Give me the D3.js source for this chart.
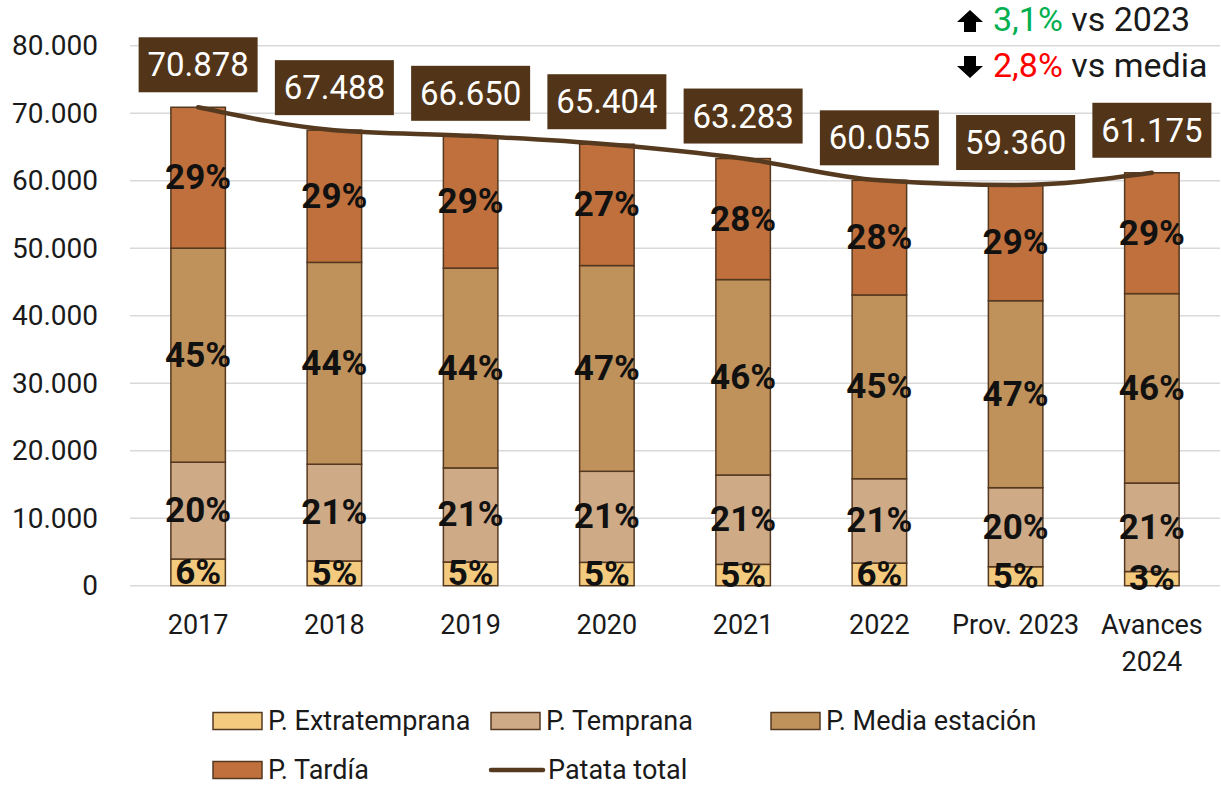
<!DOCTYPE html>
<html>
<head>
<meta charset="utf-8">
<script src="https://cdn.jsdelivr.net/npm/d3@7"></script>
<style>
  html, body { margin: 0; padding: 0; background: #fff; }
  svg { display: block; font-family: Roboto, "Noto Sans", sans-serif; }
</style>
</head>
<body>
<div id="chart"></div>
<script>
// --- data ---
const years = ["2017", "2018", "2019", "2020", "2021", "2022", "Prov. 2023", "Avances 2024"];
const extratemprana = [3950, 3660, 3510, 3460, 3160, 3350, 2810, 2100];
const temprana      = [14350, 14340, 13940, 13490, 13240, 12500, 11710, 13110];
const mediaEstacion = [31700, 29900, 29600, 30480, 28950, 27220, 27700, 28060];
const tardia        = [20878, 19588, 19600, 17974, 17933, 16985, 17140, 17905];
const patataTotal   = [70878, 67488, 66650, 65404, 63283, 60055, 59360, 61175];
const yTicks = [0, 10000, 20000, 30000, 40000, 50000, 60000, 70000, 80000];

const seriesNames = ["P. Extratemprana", "P. Temprana", "P. Media estación", "P. Tardía"];
const seriesValues = [extratemprana, temprana, mediaEstacion, tardia];
const seriesColors = ["#F3CA7E", "#CEAA86", "#C0925B", "#BF703C"];
const borderColor = "#553820";
const lineColor = "#553A20";
const boxColor = "#523519";

const width = 1221, height = 787;
const plot = { left: 130, right: 1220, top: 45.7, bottom: 585.7 };

const fmt = d3.formatLocale({ decimal: ",", thousands: ".", grouping: [3], currency: ["", "€"] }).format(",d");

const svg = d3.select("#chart").append("svg")
  .attr("width", width).attr("height", height)
  .attr("viewBox", `0 0 ${width} ${height}`);

const x = d3.scaleBand().domain(years).range([plot.left, plot.right])
  .paddingInner(0.6).paddingOuter(0.3);
const y = d3.scaleLinear().domain([0, 80000]).range([plot.bottom, plot.top]);

// gridlines
svg.append("g").selectAll("line").data(yTicks).join("line")
  .attr("x1", plot.left).attr("x2", plot.right)
  .attr("y1", d => y(d)).attr("y2", d => y(d))
  .attr("stroke", "#d9d9d9").attr("stroke-width", 1.5);

// y tick labels
svg.append("g").selectAll("text").data(yTicks).join("text")
  .attr("x", 98).attr("y", d => y(d))
  .attr("text-anchor", "end").attr("dominant-baseline", "central")
  .attr("font-size", 28).attr("fill", "#1a1a1a")
  .text(d => d === 0 ? "0" : fmt(d));

// stacked bars
const rows = years.map((yr, i) => {
  const r = { year: yr, total: patataTotal[i] };
  seriesNames.forEach((s, k) => r[s] = seriesValues[k][i]);
  return r;
});
const stacked = d3.stack().keys(seriesNames)(rows);

const layers = svg.append("g").selectAll("g").data(stacked).join("g")
  .attr("fill", (d, k) => seriesColors[k]);

layers.selectAll("rect").data(d => d).join("rect")
  .attr("x", d => x(d.data.year))
  .attr("width", x.bandwidth())
  .attr("y", d => y(d[1]))
  .attr("height", d => y(d[0]) - y(d[1]))
  .attr("stroke", borderColor).attr("stroke-width", 1.5);

// percentage labels
const pctLayer = svg.append("g");
stacked.forEach(layer => {
  pctLayer.selectAll(null).data(layer).join("text")
    .attr("x", d => x(d.data.year) + x.bandwidth() / 2)
    .attr("y", d => y((d[0] + d[1]) / 2))
    .attr("text-anchor", "middle").attr("dominant-baseline", "central")
    .attr("font-size", 35).attr("font-weight", 700).attr("fill", "#111")
    .text(d => Math.round((d[1] - d[0]) / d.data.total * 100) + "%");
});

// total line
const line = d3.line()
  .x((d, i) => x(years[i]) + x.bandwidth() / 2)
  .y(d => y(d))
  .curve(d3.curveMonotoneX);
svg.append("path").datum(patataTotal)
  .attr("d", line).attr("fill", "none")
  .attr("stroke", lineColor).attr("stroke-width", 4.5)
  .attr("stroke-linecap", "round");

// total value boxes
const boxW = 119, boxH = 55, boxGap = 15;
const boxes = svg.append("g").selectAll("g").data(patataTotal).join("g")
  .attr("transform", (d, i) => `translate(${x(years[i]) + x.bandwidth() / 2},${y(d) - boxGap - boxH / 2})`);
boxes.append("rect")
  .attr("x", -boxW / 2).attr("y", -boxH / 2)
  .attr("width", boxW).attr("height", boxH)
  .attr("fill", boxColor);
boxes.append("text")
  .attr("text-anchor", "middle").attr("dominant-baseline", "central")
  .attr("font-size", 33).attr("fill", "#fff")
  .text(d => fmt(d));

// x axis labels (wrap "Avances 2024")
const xl = svg.append("g").selectAll("text").data(years).join("text")
  .attr("x", d => x(d) + x.bandwidth() / 2)
  .attr("y", 634)
  .attr("text-anchor", "middle")
  .attr("font-size", 27).attr("fill", "#1a1a1a");
xl.each(function (d) {
  const t = d3.select(this);
  const parts = d.startsWith("Avances") ? d.split(" ") : [d];
  parts.forEach((p, j) => t.append("tspan")
    .attr("x", x(d) + x.bandwidth() / 2)
    .attr("dy", j === 0 ? 0 : 37).text(p));
});

// annotation top right
const notes = [
  { dir: "up", value: "3,1%", color: "#00B050", rest: " vs 2023", y: 31 },
  { dir: "down", value: "2,8%", color: "#FF0000", rest: " vs media", y: 77 }
];
const ann = svg.append("g");
notes.forEach(n => {
  const cx = 970, top = n.y - 21, bot = n.y + 1;
  const pts = n.dir === "up"
    ? [[cx, top], [cx + 13, top + 12], [cx + 6, top + 12], [cx + 6, bot], [cx - 6, bot], [cx - 6, top + 12], [cx - 13, top + 12]]
    : [[cx, bot], [cx + 13, bot - 12], [cx + 6, bot - 12], [cx + 6, top], [cx - 6, top], [cx - 6, bot - 12], [cx - 13, bot - 12]];
  ann.append("path").attr("d", "M" + pts.join("L") + "Z").attr("fill", "#000");
  const t = ann.append("text").attr("x", 993).attr("y", n.y)
    .attr("font-size", 34).attr("fill", "#1a1a1a");
  t.append("tspan").attr("fill", n.color).text(n.value);
  t.append("tspan").text(n.rest);
});

// legend
const legendItems = [
  { name: seriesNames[0], color: seriesColors[0], x: 213, y: 721 },
  { name: seriesNames[1], color: seriesColors[1], x: 491, y: 721 },
  { name: seriesNames[2], color: seriesColors[2], x: 771, y: 721 },
  { name: seriesNames[3], color: seriesColors[3], x: 213, y: 770 },
  { name: "Patata total", line: true, x: 491, y: 770 }
];
const lg = svg.append("g").selectAll("g").data(legendItems).join("g")
  .attr("transform", d => `translate(${d.x},${d.y})`);
lg.filter(d => !d.line).append("rect")
  .attr("x", 0).attr("y", -8.5).attr("width", 49).attr("height", 17)
  .attr("fill", d => d.color).attr("stroke", borderColor).attr("stroke-width", 1.5);
lg.filter(d => d.line).append("line")
  .attr("x1", 0).attr("x2", 52).attr("y1", 0).attr("y2", 0)
  .attr("stroke", lineColor).attr("stroke-width", 4.5).attr("stroke-linecap", "round");
lg.append("text")
  .attr("x", d => d.line ? 57 : 55).attr("y", 0)
  .attr("dominant-baseline", "central")
  .attr("font-size", 27).attr("fill", "#1a1a1a")
  .text(d => d.name);
</script>
</body>
</html>
